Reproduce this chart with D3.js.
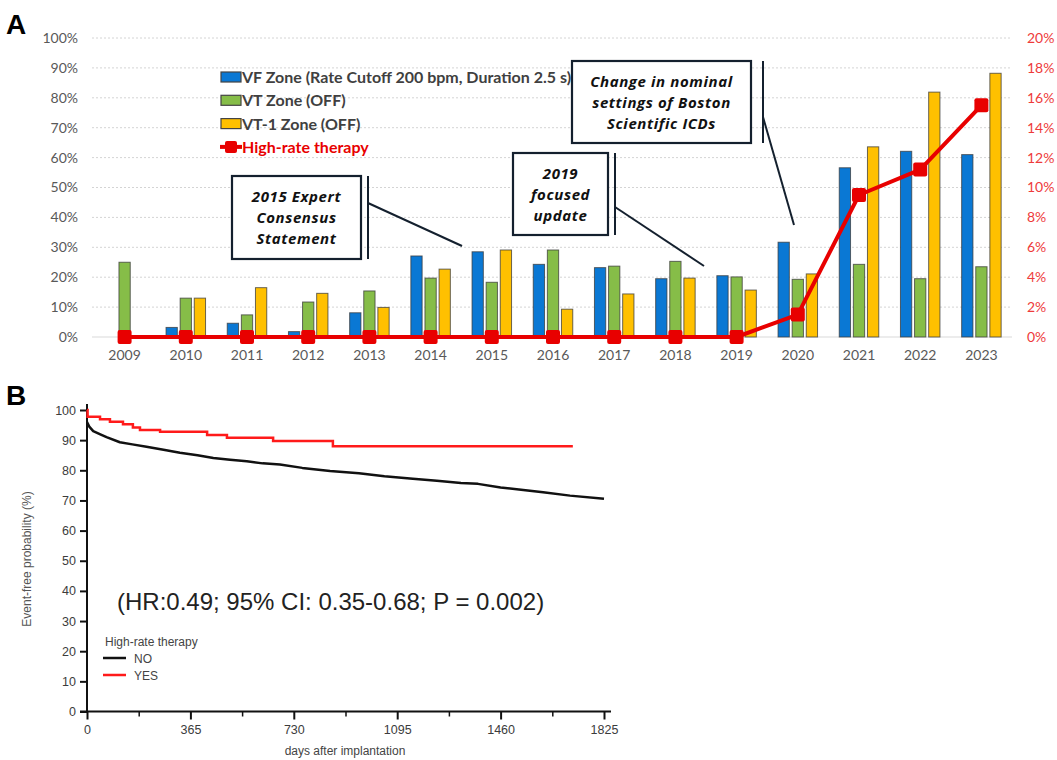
<!DOCTYPE html>
<html>
<head>
<meta charset="utf-8">
<script src="https://cdn.jsdelivr.net/npm/d3@7"></script>
<style>
  body { margin: 0; background: #fff; }
  svg { display: block; }
</style>
</head>
<body>
<div id="chart"></div>
<script>
// ---- panel A data ----
var years = [2009, 2010, 2011, 2012, 2013, 2014, 2015, 2016, 2017, 2018, 2019, 2020, 2021, 2022, 2023];
var vfZone = [0, 3.2, 4.6, 1.8, 8.1, 27.1, 28.5, 24.3, 23.2, 19.5, 20.5, 31.7, 56.6, 62.1, 61.0];
var vtZone = [25.0, 13.0, 7.4, 11.7, 15.4, 19.7, 18.3, 29.1, 23.7, 25.3, 20.1, 19.3, 24.3, 19.5, 23.5];
var vt1Zone = [0, 13.0, 16.5, 14.6, 9.9, 22.7, 29.1, 9.3, 14.4, 19.7, 15.7, 21.1, 63.6, 81.9, 88.2];
var highRate = [0, 0, 0, 0, 0, 0, 0, 0, 0, 0, 0, 1.5, 9.5, 11.2, 15.5];
var leftTicks = [0, 10, 20, 30, 40, 50, 60, 70, 80, 90, 100];
var rightTicks = [0, 2, 4, 6, 8, 10, 12, 14, 16, 18, 20];
var seriesNames = ["VF Zone (Rate Cutoff 200 bpm, Duration 2.5 s)", "VT Zone (OFF)", "VT-1 Zone (OFF)"];
var lineName = "High-rate therapy";
var note2015 = ["2015 Expert", "Consensus", "Statement"];
var note2019 = ["2019", "focused", "update"];
var noteBoston = ["Change in nominal", "settings of Boston", "Scientific ICDs"];

// ---- panel B data (Kaplan-Meier) ----
var noDays = [0, 8, 22, 45, 69, 116, 160, 210, 270, 328, 390, 446, 505, 564, 620, 681, 760, 858, 960, 1050, 1150, 1235, 1320, 1380, 1460, 1540, 1610, 1705, 1825];
var noSurv = [96, 94.5, 93, 92, 91, 89.3, 88.6, 87.8, 86.8, 85.8, 85, 84.1, 83.5, 83, 82.3, 81.9, 80.8, 79.8, 79, 78, 77.2, 76.5, 75.8, 75.5, 74.3, 73.5, 72.7, 71.6, 70.6];
var yesDays = [0, 2, 46, 81, 127, 162, 187, 258, 424, 494, 657, 868, 1715];
var yesSurv = [100, 97.8, 96.9, 96.1, 95.3, 94.2, 93.4, 92.8, 91.7, 90.8, 89.7, 88.0, 88.0];
var dayTicks = [0, 365, 730, 1095, 1460, 1825];
var minorDayTicks = [182.5, 547.5, 912.5, 1277.5, 1642.5];
var survTicks = [0, 10, 20, 30, 40, 50, 60, 70, 80, 90, 100];
var groupNames = ["NO", "YES"];
var groupTitle = "High-rate therapy";
var hrText = "(HR:0.49; 95% CI: 0.35-0.68; P = 0.002)";

var colors = ["#0a78d4", "#86bd48", "#ffc000"];
var red = "#e80000";

var svg = d3.select("#chart").append("svg")
  .attr("width", 1057)
  .attr("height", 760);

var calibri = "Lato, 'Open Sans', sans-serif";

// ================= PANEL A =================
svg.append("text").attr("x", 6).attr("y", 34)
  .style("font", "bold 28px 'Liberation Sans', Arial")
  .text("A");

var x0 = d3.scaleBand().domain(years).range([94, 1012]);
var x1 = d3.scaleBand().domain([0, 1, 2]).range([0, 39.5]).paddingInner(0.2);
var yL = d3.scaleLinear().domain([0, 100]).range([337, 38]);
var yR = d3.scaleLinear().domain([0, 20]).range([337, 38]);
var cx = function(yr) { return x0(yr) + x0.bandwidth() / 2; };

// gridlines
svg.append("g").selectAll("line")
  .data(leftTicks)
  .enter().append("line")
  .attr("x1", 92).attr("x2", 1012)
  .attr("y1", d => yL(d)).attr("y2", d => yL(d))
  .attr("stroke", d => d === 0 ? "#d9d9d9" : "#d4d4d4")
  .attr("stroke-width", 1)
  .attr("stroke-dasharray", d => d === 0 ? null : "2,2");

var axL = svg.append("g")
  .attr("transform", "translate(92,0)")
  .call(d3.axisLeft(yL).tickValues(leftTicks).tickFormat(d => d + "%").tickSize(0).tickPadding(14));
axL.select(".domain").remove();
axL.selectAll("text").style("font", "14px " + calibri).attr("fill", "#595959");

var axR = svg.append("g")
  .attr("transform", "translate(1012,0)")
  .call(d3.axisRight(yR).tickValues(rightTicks).tickFormat(d => d + "%").tickSize(0).tickPadding(15));
axR.select(".domain").remove();
axR.selectAll("text").style("font", "14px " + calibri).attr("fill", "#ee3b3b");

var axX = svg.append("g")
  .attr("transform", "translate(0,337)")
  .call(d3.axisBottom(x0).tickSize(0).tickPadding(13));
axX.select(".domain").remove();
axX.selectAll("text").style("font", "14px " + calibri).attr("fill", "#595959");

// bars
var barData = [];
years.forEach(function(yr, i) {
  [vfZone[i], vtZone[i], vt1Zone[i]].forEach(function(v, s) {
    if (v > 0) barData.push({year: yr, s: s, v: v});
  });
});

svg.append("g").selectAll("rect")
  .data(barData)
  .enter().append("rect")
  .attr("x", d => cx(d.year) - 19.75 + x1(d.s))
  .attr("y", d => yL(d.v))
  .attr("width", x1.bandwidth())
  .attr("height", d => yL(0) - yL(d.v))
  .attr("fill", d => colors[d.s])
  .attr("stroke", "#3a3a3a")
  .attr("stroke-opacity", 0.75)
  .attr("stroke-width", 1);

// high-rate line
var lineData = years.map((yr, i) => [yr, highRate[i]]);
svg.append("path")
  .datum(lineData)
  .attr("fill", "none")
  .attr("stroke", red)
  .attr("stroke-width", 4)
  .attr("stroke-linejoin", "round")
  .attr("d", d3.line().x(d => cx(d[0])).y(d => yR(d[1])));

svg.append("g").selectAll("rect")
  .data(lineData)
  .enter().append("rect")
  .attr("x", d => cx(d[0]) - 7)
  .attr("y", d => yR(d[1]) - 7)
  .attr("width", 14).attr("height", 14)
  .attr("rx", 2)
  .attr("fill", red);

// legend
var leg = svg.append("g").attr("transform", "translate(221,77)");
seriesNames.forEach(function(name, i) {
  var g = leg.append("g").attr("transform", "translate(0," + (i * 23.3) + ")");
  g.append("rect").attr("x", 0).attr("y", -5).attr("width", 20).attr("height", 10)
    .attr("fill", colors[i]).attr("stroke", "#444").attr("stroke-width", 1.2);
  g.append("text").attr("x", 21).attr("y", 6)
    .style("font", "bold 16px " + calibri).attr("fill", "#404040")
    .text(name);
});
var lg = leg.append("g").attr("transform", "translate(0," + (3 * 23.3) + ")");
lg.append("line").attr("x1", -1).attr("x2", 21).attr("y1", 0).attr("y2", 0)
  .attr("stroke", red).attr("stroke-width", 4);
lg.append("rect").attr("x", 4).attr("y", -6).attr("width", 12).attr("height", 12).attr("rx", 2).attr("fill", red);
lg.append("text").attr("x", 21).attr("y", 6)
  .style("font", "bold 16px " + calibri).attr("fill", red)
  .text(lineName);

// callouts
function callout(lines, bx, by, bw, bh, vx, lx1, ly1, lx2, ly2, lineY) {
  var g = svg.append("g");
  g.append("rect").attr("x", bx).attr("y", by).attr("width", bw).attr("height", bh)
    .attr("fill", "#fff").attr("stroke", "#14202e").attr("stroke-width", 2.2);
  lines.forEach(function(t, i) {
    g.append("text").attr("x", bx + bw / 2).attr("y", lineY + i * 20.8)
      .attr("text-anchor", "middle")
      .style("font", "italic bold 15px 'Open Sans', sans-serif")
      .style("letter-spacing", "0.6px")
      .attr("fill", "#111")
      .text(t);
  });
  g.append("line").attr("x1", vx).attr("x2", vx).attr("y1", by).attr("y2", by + bh)
    .attr("stroke", "#14202e").attr("stroke-width", 2);
  g.append("line").attr("x1", lx1).attr("y1", ly1).attr("x2", lx2).attr("y2", ly2)
    .attr("stroke", "#14202e").attr("stroke-width", 2);
}
callout(note2015, 232, 176, 129, 83, 368, 368, 203, 462, 246, 202);
callout(note2019, 513, 153, 95, 82, 615, 615, 207, 704, 266, 179);
callout(noteBoston, 572, 61, 179, 82, 763, 763, 117, 794, 225, 87);

// ================= PANEL B =================
svg.append("text").attr("x", 6).attr("y", 405)
  .style("font", "bold 28px 'Liberation Sans', Arial")
  .text("B");

var xB = d3.scaleLinear().domain([0, 1825]).range([87, 604]);
var yB = d3.scaleLinear().domain([0, 100]).range([711.5, 410]);
var arial = "'Liberation Sans', Arial, sans-serif";

var axBy = svg.append("g")
  .attr("transform", "translate(87,0)")
  .call(d3.axisLeft(yB).tickValues(survTicks).tickSize(7).tickPadding(4));
axBy.select(".domain").remove();
axBy.selectAll("line").attr("stroke", "#111").attr("stroke-width", 2);
axBy.selectAll("text").style("font", "12.5px " + arial).attr("fill", "#3c3c3c");

var axBx = svg.append("g")
  .attr("transform", "translate(0,711.5)")
  .call(d3.axisBottom(xB).tickValues(dayTicks).tickFormat(d3.format("d")).tickSize(8).tickPadding(6));
axBx.select(".domain").remove();
axBx.selectAll("line").attr("stroke", "#111").attr("stroke-width", 2);
axBx.selectAll("text").style("font", "12.5px " + arial).attr("fill", "#3c3c3c");

var axBm = svg.append("g")
  .attr("transform", "translate(0,711.5)")
  .call(d3.axisBottom(xB).tickValues(minorDayTicks).tickSize(5).tickFormat(""));
axBm.select(".domain").remove();
axBm.selectAll("line").attr("stroke", "#111").attr("stroke-width", 1.5);

svg.append("line").attr("x1", 87).attr("x2", 87).attr("y1", 404).attr("y2", 712.5)
  .attr("stroke", "#111").attr("stroke-width", 2);
svg.append("line").attr("x1", 80).attr("x2", 611).attr("y1", 711.5).attr("y2", 711.5)
  .attr("stroke", "#111").attr("stroke-width", 2);

svg.append("text")
  .attr("transform", "translate(31,559) rotate(-90)")
  .attr("text-anchor", "middle")
  .style("font", "12px " + arial).attr("fill", "#555")
  .text("Event-free probability (%)");

svg.append("text").attr("x", 345).attr("y", 755)
  .attr("text-anchor", "middle")
  .style("font", "12px " + arial).attr("fill", "#444")
  .text("days after implantation");

// curves
var noData = noDays.map((d, i) => [d, noSurv[i]]);
var yesData = yesDays.map((d, i) => [d, yesSurv[i]]);

svg.append("path").datum(noData)
  .attr("fill", "none").attr("stroke", "#111").attr("stroke-width", 2.5)
  .attr("stroke-linejoin", "round")
  .attr("d", d3.line().x(d => xB(d[0])).y(d => yB(d[1])));

svg.append("path").datum(yesData)
  .attr("fill", "none").attr("stroke", "#ff1a1a").attr("stroke-width", 2.5)
  .attr("d", d3.line().x(d => xB(d[0])).y(d => yB(d[1])).curve(d3.curveStepAfter));

// legend B
svg.append("text").attr("x", 105).attr("y", 646)
  .style("font", "12px " + arial).attr("fill", "#444")
  .text(groupTitle);
groupNames.forEach(function(name, i) {
  var yy = 658 + i * 17;
  svg.append("line").attr("x1", 103).attr("x2", 126).attr("y1", yy).attr("y2", yy)
    .attr("stroke", i === 0 ? "#111" : "#ff1a1a").attr("stroke-width", 2.5);
  svg.append("text").attr("x", 134).attr("y", yy + 4.5)
    .style("font", "12px " + arial).attr("fill", "#444")
    .text(name);
});

svg.append("text").attr("x", 117).attr("y", 610)
  .style("font", "24px " + arial).attr("fill", "#222")
  .text(hrText);
</script>
</body>
</html>
